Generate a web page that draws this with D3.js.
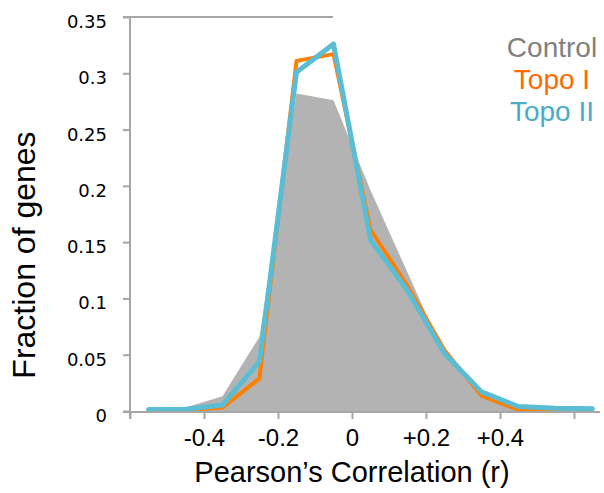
<!DOCTYPE html>
<html>
<head>
<meta charset="utf-8">
<script src="https://cdn.jsdelivr.net/npm/d3@7/dist/d3.min.js"></script>
<style>
  html, body { margin: 0; padding: 0; background: #fff; }
  svg { display: block; }
</style>
</head>
<body>
<svg id="chart" width="604" height="493"></svg>
<script>
// ---- data ----
const binCenters = [-0.55, -0.45, -0.35, -0.25, -0.15, -0.05, 0.05, 0.15, 0.25, 0.35, 0.45, 0.55, 0.65];
const control = [0.001, 0.003, 0.013, 0.066, 0.282, 0.276, 0.196, 0.123, 0.050, 0.013, 0.004, 0.001, 0.000];
const topoI   = [0.0005, 0.0008, 0.003, 0.029, 0.311, 0.317, 0.161, 0.111, 0.054, 0.0135, 0.001, 0.0005, 0.0003];
const topoII  = [0.0013, 0.0015, 0.0053, 0.044, 0.301, 0.326, 0.152, 0.107, 0.051, 0.017, 0.004, 0.0025, 0.002];
const xTicks = [-0.6, -0.4, -0.2, 0, 0.2, 0.4, 0.6];
const xTickLabels = ["", "-0.4", "-0.2", "0", "+0.2", "+0.4", ""];
const yTicks = [0, 0.05, 0.1, 0.15, 0.2, 0.25, 0.3, 0.35];
const yTickLabels = ["0", "0.05", "0.1", "0.15", "0.2", "0.25", "0.3", "0.35"];
const seriesNames = ["Control", "Topo I", "Topo II"];

// ---- layout ----
const svg = d3.select("#chart");
const axisColor = "#a6a6a6";
const x = d3.scaleLinear().domain([-0.6, 0.6]).range([130, 574]);
const y = d3.scaleLinear().domain([0, 0.35]).range([411, 17]);

// control area
const area = d3.area()
  .x((d, i) => x(binCenters[i]))
  .y0(y(0))
  .y1(d => y(d));
svg.append("path").datum(control)
  .attr("d", area)
  .attr("fill", "#b3b3b3");

const line = d3.line()
  .x((d, i) => x(binCenters[i]))
  .y(d => y(d));

svg.append("path").datum(topoI)
  .attr("d", line)
  .attr("fill", "none")
  .attr("stroke", "#ff7f00")
  .attr("stroke-width", 4)
  .attr("stroke-linejoin", "round");

svg.append("path").datum(topoII)
  .attr("d", line)
  .attr("fill", "none")
  .attr("stroke", "#5bbdd4")
  .attr("stroke-width", 5)
  .attr("stroke-linejoin", "round")
  .attr("stroke-linecap", "round");

// x axis
const xAxis = d3.axisBottom(x)
  .tickValues(xTicks)
  .tickSize(7)
  .tickSizeOuter(0)
  .tickFormat((d, i) => xTickLabels[i]);
const gx = svg.append("g").attr("transform", "translate(0,412)").call(xAxis);
gx.select(".domain").attr("d", `M123,0H${x(0.67)}`).attr("stroke", axisColor).attr("stroke-width", 2);
gx.selectAll(".tick line").attr("stroke", axisColor).attr("stroke-width", 2);
gx.selectAll(".tick text")
  .attr("y", 34).attr("dy", null)
  .attr("fill", "#000")
  .style("font-family", "'Liberation Sans', Arial, sans-serif")
  .style("font-size", "24px");

// y axis
const yAxis = d3.axisLeft(y)
  .tickValues(yTicks)
  .tickSize(7)
  .tickSizeOuter(0)
  .tickFormat((d, i) => yTickLabels[i]);
const gy = svg.append("g").attr("transform", "translate(130,0)").call(yAxis);
gy.select(".domain").attr("d", `M0,${y(0.35)}V419`).attr("stroke", axisColor).attr("stroke-width", 2);
gy.selectAll(".tick line").attr("stroke", axisColor).attr("stroke-width", 2);
gy.selectAll(".tick text")
  .attr("x", -23).attr("dy", "10.5").attr("dominant-baseline", null)
  .attr("fill", "#000")
  .style("font-family", "'DejaVu Sans', Verdana, sans-serif")
  .style("font-size", "18px");

// top border line
svg.append("line")
  .attr("x1", 123).attr("x2", 333)
  .attr("y1", y(0.35)).attr("y2", y(0.35))
  .attr("stroke", axisColor).attr("stroke-width", 2);

// axis titles
svg.append("text")
  .attr("x", 352).attr("y", 482)
  .attr("text-anchor", "middle")
  .style("font-family", "'Liberation Sans', Arial, sans-serif")
  .style("font-size", "29px")
  .attr("fill", "#000")
  .text("Pearson\u2019s Correlation (r)");

svg.append("text")
  .attr("transform", "translate(35,255) rotate(-90)")
  .attr("text-anchor", "middle")
  .style("font-family", "'Liberation Sans', Arial, sans-serif")
  .style("font-size", "32px")
  .attr("fill", "#000")
  .text("Fraction of genes");

// legend
const legendColors = ["#808080", "#ff6a00", "#4bacc6"];
const legendY = [57, 89, 121];
svg.selectAll("text.legend").data(seriesNames).enter().append("text")
  .attr("class", "legend")
  .attr("x", 552)
  .attr("y", (d, i) => legendY[i])
  .attr("text-anchor", "middle")
  .style("font-family", "'Liberation Sans', Arial, sans-serif")
  .style("font-size", "28px")
  .attr("fill", (d, i) => legendColors[i])
  .text(d => d);
</script>
</body>
</html>
